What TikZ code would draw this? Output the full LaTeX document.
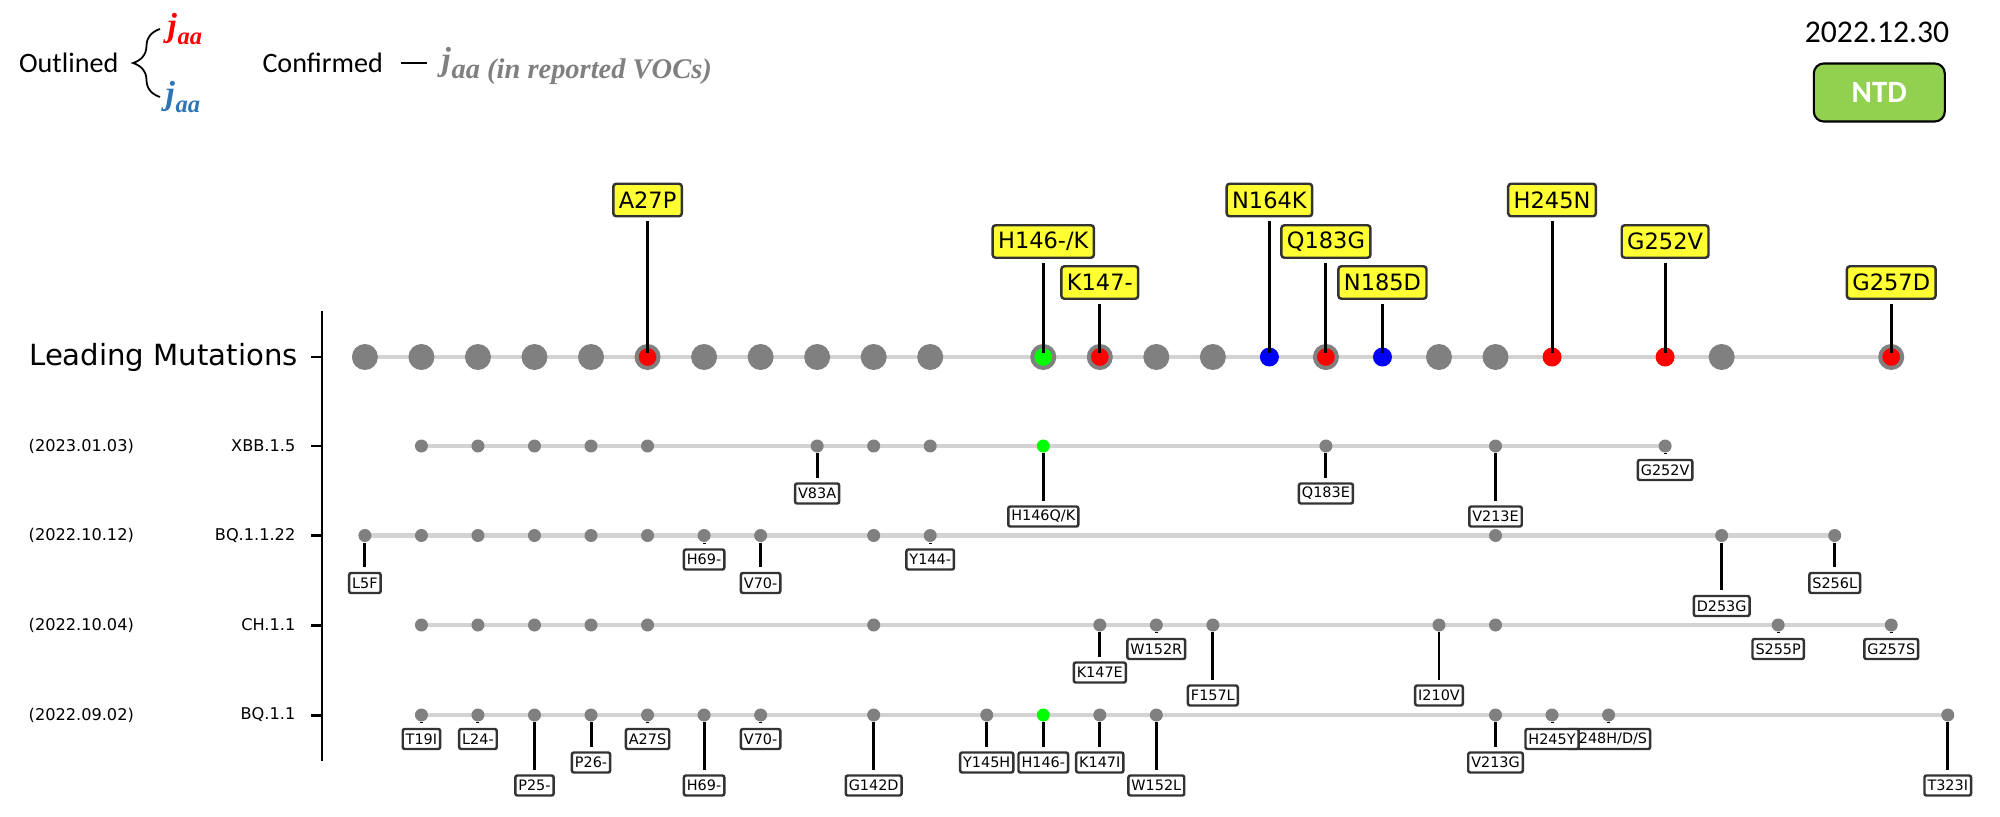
\documentclass[tikz,border=0pt]{standalone}
\usepackage{fontspec}
\usetikzlibrary{decorations.pathreplacing}
\newfontfamily\mplfont{DejaVu Sans}
\newfontfamily\slidefont{Carlito}
\newfontfamily\symfont{Liberation Serif}
\newcommand{\jsub}[2][7.5]{{\symfont\bfseries\itshape j\kern0.02em\raisebox{-0.075cm}{\fontsize{#1}{9}\selectfont #2}}}
\definecolor{trackgray}{HTML}{D3D3D3}
\definecolor{dotgray}{HTML}{808080}
\definecolor{tagyellow}{HTML}{FFFF33}
\definecolor{tagedge}{HTML}{333333}
\definecolor{ntdgreen}{HTML}{92D050}
\definecolor{outlineblue}{HTML}{2E75B6}

\begin{document}
\begin{tikzpicture}[
    track/.style={draw=trackgray, line width=1.25pt},
    bigdot/.style={circle, fill=dotgray, inner sep=0pt, minimum size=0.26cm},
    ringdot/.style={circle, fill=#1, draw=dotgray, line width=0.04cm, inner sep=0pt, minimum size=0.22cm},
    flatdot/.style={circle, fill=#1, inner sep=0pt, minimum size=0.19cm},
    smalldot/.style={circle, fill=#1, inner sep=0pt, minimum size=0.13cm},
    smalldot/.default=dotgray,
    stem/.style={black, line width=0.85pt},
    axisline/.style={black, line width=0.85pt},
    leadtag/.style={draw=tagedge, fill=tagyellow, line width=0.7pt, rounded corners=0.03cm,
        inner xsep=0.055cm, inner ysep=0pt, minimum height=0.325cm, font=\mplfont\fontsize{6.4}{7}\selectfont},
    vartag/.style={draw=tagedge, fill=white, line width=0.7pt, rounded corners=0.02cm,
        inner xsep=0.03cm, inner ysep=0pt, minimum height=0.2cm, font=\mplfont\fontsize{4.1}{5}\selectfont},
    rowtext/.style={inner sep=0pt, font=\mplfont\fontsize{4.6}{5}\selectfont},
    legendtext/.style={inner sep=0pt, font=\slidefont\fontsize{8}{9}\selectfont},
    jtext/.style={inner sep=0pt, font=\fontsize{9.5}{10}\selectfont},
]
    \useasboundingbox (0,0) rectangle (20,-8.17);

    % legend
    \node[legendtext, anchor=west] (outlined) at (0.184,-0.63) {Outlined};
    \draw[line width=0.5pt, decorate, decoration={brace, amplitude=0.27cm}] (1.60,-0.97) -- (1.60,-0.29);
    \node[jtext, text=red, anchor=west] (jred) at (1.67,-0.29) {\jsub[7]{aa}};
    \node[jtext, text=outlineblue, anchor=west] (jblue) at (1.65,-0.97) {\jsub[7]{aa}};
    \node[legendtext, anchor=west] (confirmed) at (2.618,-0.63) {Confirmed};
    \node[jtext, text=dotgray, anchor=west] (voc) at (4.41,-0.66) {\jsub[8.1]{aa (in reported VOCs)}};
    \draw[line width=0.6pt, shorten <=0.17cm, shorten >=0.144cm] (confirmed.east) -- (confirmed.east -| voc.west);

    % date and domain
    \node[legendtext, font=\slidefont\fontsize{9}{10}\selectfont] (date) at (18.77,-0.327) {2022.12.30};
    \node[draw=black, fill=ntdgreen, line width=0.6pt, rounded corners=0.1cm, minimum width=1.31cm, minimum height=0.58cm,
        text=white, font=\slidefont\bfseries\fontsize{8.8}{10}\selectfont] (ntd) at (18.793,-0.925) {NTD};

    % axis and row labels
    \draw[axisline] (3.22,-3.11) -- (3.22,-7.61);
    \foreach \y in {-3.57,-4.46,-5.355,-6.25,-7.15}
        \draw[axisline] (3.11,\y) -- (3.22,\y);
    \node[inner sep=0pt, anchor=east, font=\mplfont\fontsize{8.3}{9}\selectfont] (leadname) at (2.985,-3.57) {Leading Mutations};
    \node[rowtext, anchor=east] (xbbname) at (2.96,-4.46) {XBB.1.5};
    \node[rowtext, anchor=west] (xbbdate) at (0.28,-4.46) {(2023.01.03)};
    \node[rowtext, anchor=east] (bqvname) at (2.96,-5.355) {BQ.1.1.22};
    \node[rowtext, anchor=west] (bqvdate) at (0.28,-5.355) {(2022.10.12)};
    \node[rowtext, anchor=east] (chname) at (2.96,-6.25) {CH.1.1};
    \node[rowtext, anchor=west] (chdate) at (0.28,-6.25) {(2022.10.04)};
    \node[rowtext, anchor=east] (bqname) at (2.96,-7.15) {BQ.1.1};
    \node[rowtext, anchor=west] (bqdate) at (0.28,-7.15) {(2022.09.02)};

    \begin{scope}[xshift=3.649cm, x=0.5653cm]
        % leading mutations
        \coordinate (lead-a) at (0,-3.57);
        \coordinate (lead-b) at (27,-3.57);
        \draw[track] (lead-a) -- (lead-b);
        \foreach \k in {0,...,4,6,7,8,9,10,14,15,19,20,24}
            \node[bigdot] (m\k) at (\k,-3.57) {};
        \foreach \k/\c in {5/red,12/green,13/red,17/red,27/red}
            \node[ringdot=\c] (m\k) at (\k,-3.57) {};
        \foreach \k/\c in {16/blue,18/blue,21/red,23/red}
            \node[flatdot=\c] (m\k) at (\k,-3.57) {};
        \foreach \k/\y/\t in {5/-2.00/A27P, 12/-2.415/{H146-/K}, 13/-2.825/K147-, 16/-2.00/N164K, 17/-2.415/Q183G,
                18/-2.825/N185D, 21/-2.00/H245N, 23/-2.415/G252V, 27/-2.825/G257D}
        {
            \node[leadtag] (tag\k) at (\k,\y) {\t};
            \draw[stem, shorten <=0.04cm, shorten >=0.04cm] (tag\k.south) -- (m\k.center);
        }

        % XBB.1.5
        \coordinate (xbb-a) at (1,-4.46);
        \coordinate (xbb-b) at (23,-4.46);
        \draw[track] (xbb-a) -- (xbb-b);
        \foreach \k in {1,...,5,8,9,10,17,20,23}
            \node[smalldot] (xbb\k) at (\k,-4.46) {};
        \node[smalldot=green] (xbb12) at (12,-4.46) {};
        \foreach \k/\d/\t in {8/0.475/V83A, 12/0.705/{H146Q/K}, 17/0.475/Q183E, 20/0.705/V213E, 23/0.24/G252V}
        {
            \node[vartag] (xbbtag\k) at (\k,{-4.46-\d}) {\t};
            \draw[stem, shorten >=0.045cm] (xbb\k) -- (xbbtag\k);
        }

        % BQ.1.1.22
        \coordinate (bqv-a) at (0,-5.355);
        \coordinate (bqv-b) at (26,-5.355);
        \draw[track] (bqv-a) -- (bqv-b);
        \foreach \k in {0,...,7,9,10,20,24,26}
            \node[smalldot] (bqv\k) at (\k,-5.355) {};
        \foreach \k/\d/\t in {0/0.475/L5F, 6/0.24/H69-, 7/0.475/V70-, 10/0.24/Y144-, 24/0.705/D253G, 26/0.475/S256L}
        {
            \node[vartag] (bqvtag\k) at (\k,{-5.355-\d}) {\t};
            \draw[stem, shorten >=0.045cm] (bqv\k) -- (bqvtag\k);
        }

        % CH.1.1
        \coordinate (ch-a) at (1,-6.25);
        \coordinate (ch-b) at (27,-6.25);
        \draw[track] (ch-a) -- (ch-b);
        \foreach \k in {1,...,5,9,13,14,15,19,20,25,27}
            \node[smalldot] (ch\k) at (\k,-6.25) {};
        \foreach \k/\d/\t in {13/0.475/K147E, 14/0.24/W152R, 15/0.705/F157L, 19/0.705/I210V, 25/0.24/S255P, 27/0.24/G257S}
        {
            \node[vartag] (chtag\k) at (\k,{-6.25-\d}) {\t};
            \draw[stem, shorten >=0.045cm] (ch\k) -- (chtag\k);
        }

        % BQ.1.1
        \coordinate (bq-a) at (1,-7.15);
        \coordinate (bq-b) at (28,-7.15);
        \draw[track] (bq-a) -- (bq-b);
        \foreach \k in {1,...,7,9,11,13,14,20,21,22,28}
            \node[smalldot] (bq\k) at (\k,-7.15) {};
        \node[smalldot=green] (bq12) at (12,-7.15) {};
        \foreach \k/\d/\t in {1/0.24/T19I, 2/0.24/L24-, 3/0.705/P25-, 4/0.475/P26-, 5/0.24/A27S, 6/0.705/H69-,
                7/0.24/V70-, 9/0.705/G142D, 11/0.475/Y145H, 12/0.475/H146-, 13/0.475/K147I, 14/0.705/W152L,
                20/0.475/V213G, 22/0.24/{\hphantom{Y}248H/D/S}, 21/0.24/H245Y, 28/0.705/T323I}
        {
            \node[vartag] (bqtag\k) at (\k,{-7.15-\d}) {\t};
            \draw[stem, shorten >=0.045cm] (bq\k) -- (bqtag\k);
        }
    \end{scope}
\end{tikzpicture}
\end{document}
